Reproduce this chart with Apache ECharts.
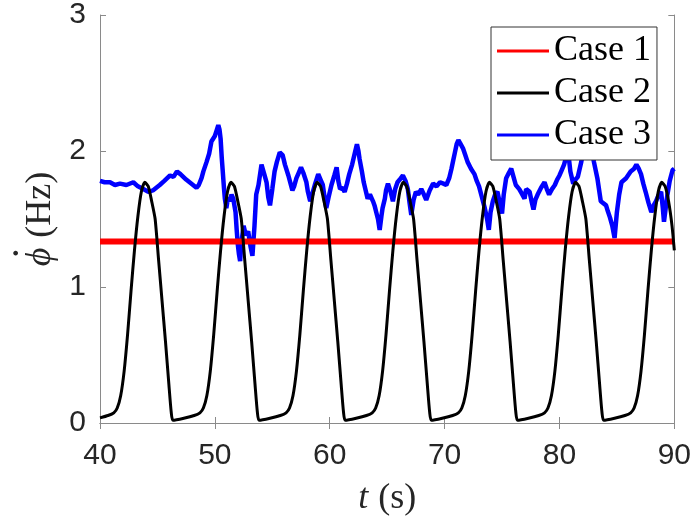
<!DOCTYPE html>
<html>
<head>
<meta charset="utf-8">
<script src="https://cdn.jsdelivr.net/npm/echarts@6/dist/echarts.min.js"></script>
<style>
  html, body { margin: 0; padding: 0; background: #fff; }
  #chart { width: 694px; height: 528px; }
</style>
</head>
<body>
<div id="chart"></div>
<script>
// x axis ticks (t, s) and y axis ticks (phi dot, Hz)
const xTicks = [40, 50, 60, 70, 80, 90];
const yTicks = [0, 1, 2, 3];

// Case 1: constant rate
const caseOne = [[40, 1.335], [90, 1.335]];

// Case 2: periodic pulses
const caseTwo = [
  [40.0, 0.038], [40.7, 0.055], [41.2, 0.075], [41.5, 0.11], [41.8, 0.2], [42.1, 0.38], [42.4, 0.65],
  [42.7, 0.97], [43.0, 1.27], [43.3, 1.52], [43.6, 1.7], [43.9, 1.77], [44.2, 1.74], [44.5, 1.63],
  [44.8, 1.5], [45.1, 1.2], [45.4, 0.9], [45.7, 0.6], [46.0, 0.28], [46.2, 0.08], [46.35, 0.02],
  [47.3, 0.035], [48.2, 0.055],
  [48.7, 0.075], [49.0, 0.11], [49.3, 0.2], [49.6, 0.38], [49.9, 0.65], [50.2, 0.97], [50.5, 1.27],
  [50.8, 1.52], [51.1, 1.7], [51.4, 1.77], [51.7, 1.74], [52.0, 1.63], [52.3, 1.5], [52.6, 1.2],
  [52.9, 0.9], [53.2, 0.6], [53.5, 0.28], [53.7, 0.08], [53.85, 0.02], [54.8, 0.035], [55.7, 0.055],
  [56.2, 0.075], [56.5, 0.11], [56.8, 0.2], [57.1, 0.38], [57.4, 0.65], [57.7, 0.97], [58.0, 1.27],
  [58.3, 1.52], [58.6, 1.7], [58.9, 1.77], [59.2, 1.74], [59.5, 1.63], [59.8, 1.5], [60.1, 1.2],
  [60.4, 0.9], [60.7, 0.6], [61.0, 0.28], [61.2, 0.08], [61.35, 0.02], [62.3, 0.035], [63.2, 0.055],
  [63.7, 0.075], [64.0, 0.11], [64.3, 0.2], [64.6, 0.38], [64.9, 0.65], [65.2, 0.97], [65.5, 1.27],
  [65.8, 1.52], [66.1, 1.7], [66.4, 1.77], [66.7, 1.74], [67.0, 1.63], [67.3, 1.5], [67.6, 1.2],
  [67.9, 0.9], [68.2, 0.6], [68.5, 0.28], [68.7, 0.08], [68.85, 0.02], [69.8, 0.035], [70.7, 0.055],
  [71.2, 0.075], [71.5, 0.11], [71.8, 0.2], [72.1, 0.38], [72.4, 0.65], [72.7, 0.97], [73.0, 1.27],
  [73.3, 1.52], [73.6, 1.7], [73.9, 1.77], [74.2, 1.74], [74.5, 1.63], [74.8, 1.5], [75.1, 1.2],
  [75.4, 0.9], [75.7, 0.6], [76.0, 0.28], [76.2, 0.08], [76.35, 0.02], [77.3, 0.035], [78.2, 0.055],
  [78.7, 0.075], [79.0, 0.11], [79.3, 0.2], [79.6, 0.38], [79.9, 0.65], [80.2, 0.97], [80.5, 1.27],
  [80.8, 1.52], [81.1, 1.7], [81.4, 1.77], [81.7, 1.74], [82.0, 1.63], [82.3, 1.5], [82.6, 1.2],
  [82.9, 0.9], [83.2, 0.6], [83.5, 0.28], [83.7, 0.08], [83.85, 0.02], [84.8, 0.035], [85.7, 0.055],
  [86.2, 0.075], [86.5, 0.11], [86.8, 0.2], [87.1, 0.38], [87.4, 0.65], [87.7, 0.97], [88.0, 1.27],
  [88.3, 1.52], [88.6, 1.7], [88.9, 1.77], [89.2, 1.74], [89.5, 1.63], [89.8, 1.45], [90.0, 1.27]
];

// Case 3: noisy trace
const caseThree = [
  [40.0, 1.78], [40.4, 1.77], [40.87, 1.77], [41.3, 1.75], [41.74, 1.76], [42.3, 1.75], [42.9, 1.77],
  [43.3, 1.74], [43.77, 1.72], [44.2, 1.70], [44.6, 1.71], [45.2, 1.75], [45.6, 1.78], [46.1, 1.82],
  [46.4, 1.81], [46.7, 1.85], [47.0, 1.83], [47.25, 1.81], [47.5, 1.79], [47.8, 1.77], [48.1, 1.75],
  [48.4, 1.73], [48.6, 1.75], [48.84, 1.80], [49.0, 1.85], [49.28, 1.92], [49.5, 1.98], [49.7, 2.07],
  [50.0, 2.11], [50.15, 2.15], [50.3, 2.19], [50.4, 2.16], [50.5, 2.09], [50.6, 1.95], [50.67, 1.87],
  [50.8, 1.72], [50.87, 1.65], [51.0, 1.58], [51.15, 1.66], [51.3, 1.63], [51.45, 1.68], [51.6, 1.65],
  [51.8, 1.55], [51.9, 1.42], [52.0, 1.31], [52.1, 1.24], [52.2, 1.19], [52.3, 1.32], [52.5, 1.45],
  [52.7, 1.38], [52.9, 1.41], [53.1, 1.30], [53.27, 1.23], [53.45, 1.45], [53.6, 1.68], [53.8, 1.75],
  [54.06, 1.90], [54.3, 1.83], [54.5, 1.77], [54.65, 1.66], [54.8, 1.60], [55.0, 1.72], [55.2, 1.85],
  [55.4, 1.92], [55.65, 1.99], [55.9, 1.97], [56.1, 1.90], [56.4, 1.82], [56.75, 1.71], [56.9, 1.74],
  [57.1, 1.80], [57.3, 1.84], [57.5, 1.88], [57.7, 1.84], [57.97, 1.77], [58.1, 1.70], [58.3, 1.63],
  [58.5, 1.69], [58.7, 1.75], [59.0, 1.83], [59.2, 1.79], [59.4, 1.75], [59.55, 1.66], [59.7, 1.58],
  [59.9, 1.66], [60.15, 1.75], [60.4, 1.82], [60.6, 1.88], [60.75, 1.78], [60.9, 1.72], [61.1, 1.73],
  [61.3, 1.70], [61.5, 1.76], [61.7, 1.83], [61.95, 1.90], [62.2, 1.99], [62.37, 2.05], [62.5, 2.00],
  [62.6, 1.94], [62.8, 1.85], [62.96, 1.77], [63.1, 1.72], [63.3, 1.65], [63.5, 1.68], [63.77, 1.63],
  [63.9, 1.60], [64.05, 1.55], [64.2, 1.50], [64.35, 1.42], [64.5, 1.52], [64.6, 1.58], [64.8, 1.65],
  [64.9, 1.71], [65.07, 1.76], [65.3, 1.70], [65.5, 1.63], [65.7, 1.72], [65.9, 1.77], [66.1, 1.79],
  [66.37, 1.82], [66.6, 1.78], [66.8, 1.72], [66.95, 1.62], [67.1, 1.53], [67.3, 1.64], [67.5, 1.70],
  [67.7, 1.68], [67.97, 1.72], [68.2, 1.68], [68.4, 1.64], [68.7, 1.71], [69.0, 1.76], [69.3, 1.74],
  [69.6, 1.77], [69.9, 1.76], [70.15, 1.75], [70.4, 1.80], [70.6, 1.87], [70.75, 1.93], [70.9, 1.99],
  [71.05, 2.05], [71.2, 2.08], [71.4, 2.05], [71.6, 2.02], [71.8, 1.97], [72.0, 1.92], [72.3, 1.87],
  [72.6, 1.83], [72.8, 1.78], [73.0, 1.74], [73.25, 1.66], [73.5, 1.58], [73.7, 1.50], [73.85, 1.42],
  [74.0, 1.55], [74.2, 1.63], [74.4, 1.68], [74.6, 1.70], [74.8, 1.62], [75.0, 1.54], [75.15, 1.68],
  [75.36, 1.80], [75.6, 1.84], [75.8, 1.87], [76.0, 1.81], [76.2, 1.75], [76.5, 1.72], [76.7, 1.69],
  [76.96, 1.65], [77.1, 1.72], [77.4, 1.70], [77.6, 1.62], [77.74, 1.57], [77.9, 1.64], [78.1, 1.68],
  [78.4, 1.73], [78.7, 1.77], [78.9, 1.72], [79.1, 1.68], [79.35, 1.72], [79.6, 1.75], [79.8, 1.79],
  [80.0, 1.82], [80.2, 1.86], [80.4, 1.90], [80.6, 1.96], [80.75, 2.0], [80.95, 1.85], [81.2, 1.76],
  [81.4, 1.79], [81.6, 1.81], [81.9, 1.92], [82.2, 2.05], [82.5, 2.12], [82.8, 2.02], [83.0, 1.92],
  [83.3, 1.80], [83.6, 1.63], [84.06, 1.60], [84.2, 1.56], [84.4, 1.51], [84.6, 1.45], [84.8, 1.36],
  [85.0, 1.55], [85.2, 1.68], [85.4, 1.77], [85.8, 1.80], [86.2, 1.85], [86.5, 1.87], [86.7, 1.90],
  [86.9, 1.87], [87.1, 1.83], [87.3, 1.76], [87.5, 1.70], [87.75, 1.62], [88.0, 1.55], [88.2, 1.60],
  [88.4, 1.63], [88.6, 1.67], [88.85, 1.70], [89.0, 1.58], [89.1, 1.48], [89.25, 1.58], [89.4, 1.68],
  [89.6, 1.78], [89.85, 1.86], [90.0, 1.87]
];

const chart = echarts.init(document.getElementById("chart"), null, { renderer: "canvas" });

const axisColor = "#8a8a8a";
const serif = "Liberation Serif, serif";
const labelStyle = { color: "#262626", fontSize: 30, fontFamily: "Liberation Sans, Arial, sans-serif" };

const boxAxis = {
  axisLine: { show: true, lineStyle: { color: axisColor, width: 1 } },
  axisTick: { show: true, inside: true, length: 6, lineStyle: { color: axisColor } },
  splitLine: { show: false },
};

const nameRich = {
  i: { fontFamily: serif, fontStyle: "italic", fontSize: 36, color: "#262626", padding: [0, 10, 0, 0] },
  n: { fontFamily: serif, fontSize: 36, color: "#262626" },
};

const options = {
  animation: false,
  backgroundColor: "#fff",
  grid: { left: 100, right: 19, top: 12, bottom: 105 },
  legend: {
    orient: "vertical",
    left: 491,
    top: 27,
    padding: [4, 6, 5, 6],
    itemGap: 2,
    itemWidth: 52,
    itemHeight: 3,
    icon: "rect",
    backgroundColor: "#fff",
    borderColor: "#333",
    borderWidth: 1,
    borderRadius: 0,
    textStyle: {
      fontFamily: serif,
      fontSize: 36,
      lineHeight: 40,
      color: "#000",
    },
    data: ["Case 1", "Case 2", "Case 3"],
  },
  graphic: [
    {
      // derivative dot over phi in the y-axis name
      type: "text",
      x: 18,
      y: 253,
      rotation: Math.PI / 2,
      style: { text: "·", fontFamily: serif, fontSize: 40, fill: "#262626", align: "center", verticalAlign: "middle" },
    },
  ],
  xAxis: [
    {
      ...boxAxis,
      type: "value",
      min: 40,
      max: 90,
      interval: 10,
      name: "{i|t}{n|(s)}",
      nameLocation: "middle",
      nameGap: 58,
      nameTextStyle: { rich: nameRich },
      axisLabel: { ...labelStyle, margin: 18, formatter: (v) => (xTicks.includes(v) ? String(v) : "") },
    },
    {
      ...boxAxis,
      type: "value",
      position: "top",
      min: 40,
      max: 90,
      interval: 10,
      axisLabel: { show: false },
    },
  ],
  yAxis: [
    {
      ...boxAxis,
      type: "value",
      min: 0,
      max: 3,
      interval: 1,
      name: "{i|ϕ}{n|(Hz)}",
      nameLocation: "middle",
      nameGap: 40,
      nameTextStyle: { rich: nameRich },
      axisLabel: { ...labelStyle, margin: 14, formatter: (v) => (yTicks.includes(v) ? String(v) : "") },
    },
    {
      ...boxAxis,
      type: "value",
      position: "right",
      min: 0,
      max: 3,
      interval: 1,
      axisLabel: { show: false },
    },
  ],
  series: [
    {
      name: "Case 1",
      type: "line",
      data: caseOne,
      symbol: "none",
      color: "#ff0000",
      lineStyle: { width: 6, color: "#ff0000" },
      z: 3,
    },
    {
      name: "Case 2",
      type: "line",
      data: caseTwo,
      symbol: "none",
      smooth: 0.2,
      color: "#000000",
      lineStyle: { width: 3, color: "#000000" },
      z: 4,
    },
    {
      name: "Case 3",
      type: "line",
      data: caseThree,
      symbol: "none",
      color: "#0000ff",
      lineStyle: { width: 4.5, color: "#0000ff" },
      z: 2,
    },
  ],
};

chart.setOption(options);
</script>
</body>
</html>
